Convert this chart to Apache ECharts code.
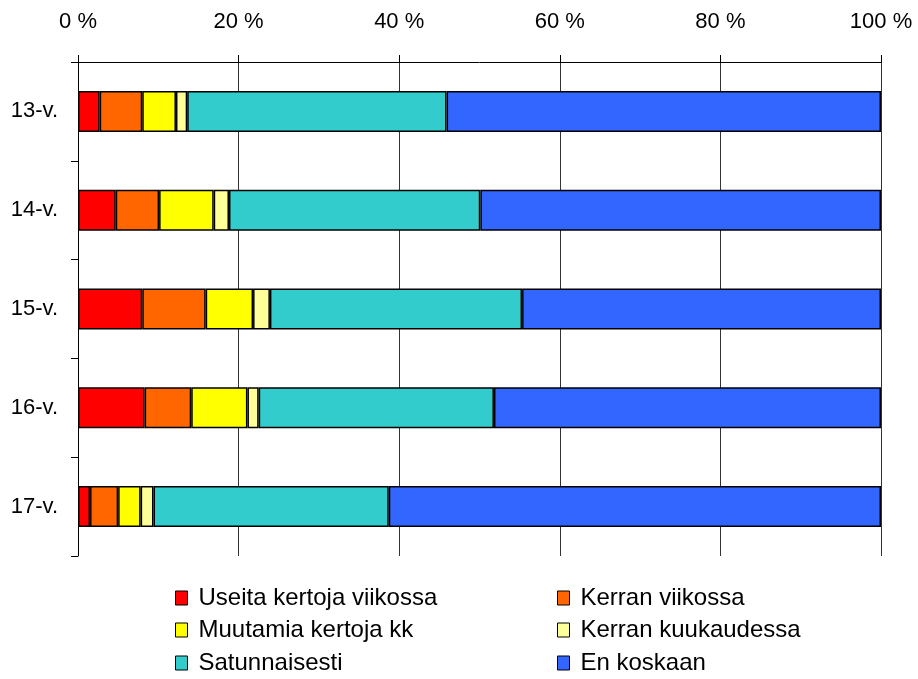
<!DOCTYPE html>
<html>
<head>
<meta charset="utf-8">
<script src="https://cdn.jsdelivr.net/npm/echarts@6/dist/echarts.min.js"></script>
<style>html,body{margin:0;padding:0;background:#fff;}#c{width:918px;height:679px;}</style>
</head>
<body>
<div id="c"></div>
<script>
var categories = ['13-v.', '14-v.', '15-v.', '16-v.', '17-v.'];
var seriesNames = ['Useita kertoja viikossa', 'Kerran viikossa', 'Muutamia kertoja kk', 'Kerran kuukaudessa', 'Satunnaisesti', 'En koskaan'];
var useita = [2.7, 4.7, 8.0, 8.3, 1.5];
var kerranViikossa = [5.3, 5.4, 7.9, 5.8, 3.5];
var muutamia = [4.2, 6.8, 5.9, 7.0, 2.8];
var kerranKk = [1.4, 1.9, 2.1, 1.4, 1.6];
var satunnaisesti = [32.3, 31.3, 31.4, 29.3, 29.3];
var enKoskaan = [54.1, 49.9, 44.7, 48.2, 61.3];
var tickValues = [0, 20, 40, 60, 80, 100];
var colors = ['#FF0000', '#FF6600', '#FFFF00', '#FFFF99', '#33CCCC', '#3366FF'];

var values = [useita, kerranViikossa, muutamia, kerranKk, satunnaisesti, enKoskaan];
var font = 'Liberation Sans, Arial, sans-serif';
var chart = echarts.init(document.getElementById('c'), null, {renderer: 'canvas'});
var series = seriesNames.map(function (n, i) {
  return {
    name: n, type: 'bar', stack: 'total', data: values[i], barWidth: 41,
    itemStyle: {color: colors[i], borderColor: '#000', borderWidth: 1.5},
    emphasis: {disabled: true}
  };
});
// legend layout: two columns, three rows
var legendCols = [175, 557];
var legendRows = [586, 618, 651];
var legends = seriesNames.map(function (n, i) {
  return {
    data: [n], left: legendCols[i % 2], top: legendRows[Math.floor(i / 2)], padding: 0,
    itemWidth: 12, itemHeight: 14, icon: 'rect',
    itemStyle: {borderColor: '#000', borderWidth: 1},
    textStyle: {fontSize: 24, color: '#000', fontFamily: font, padding: [0, 0, 0, 6]}
  };
});
chart.setOption({
  animation: false,
  textStyle: {fontFamily: font},
  grid: {left: 78, right: 37, top: 62, bottom: 123, containLabel: false},
  xAxis: {
    type: 'value', position: 'top', min: 0, max: 100, interval: 20,
    axisLine: {show: true, lineStyle: {color: '#000', width: 1}},
    axisTick: {show: true, inside: false, length: 7, lineStyle: {color: '#000'}},
    axisLabel: {margin: 29, color: '#000', fontSize: 22, fontFamily: font,
      formatter: function (v) { return tickValues.indexOf(v) >= 0 ? v + ' %' : ''; }},
    splitLine: {show: true, lineStyle: {color: '#333', width: 1}}
  },
  yAxis: {
    type: 'category', data: categories, inverse: true,
    axisLine: {show: true, lineStyle: {color: '#000', width: 1}},
    axisTick: {show: true, inside: false, length: 7, lineStyle: {color: '#000'}},
    axisLabel: {margin: 20, color: '#000', fontSize: 22, fontFamily: font},
    splitLine: {show: false}
  },
  legend: legends,
  series: series
});
</script>
</body>
</html>
